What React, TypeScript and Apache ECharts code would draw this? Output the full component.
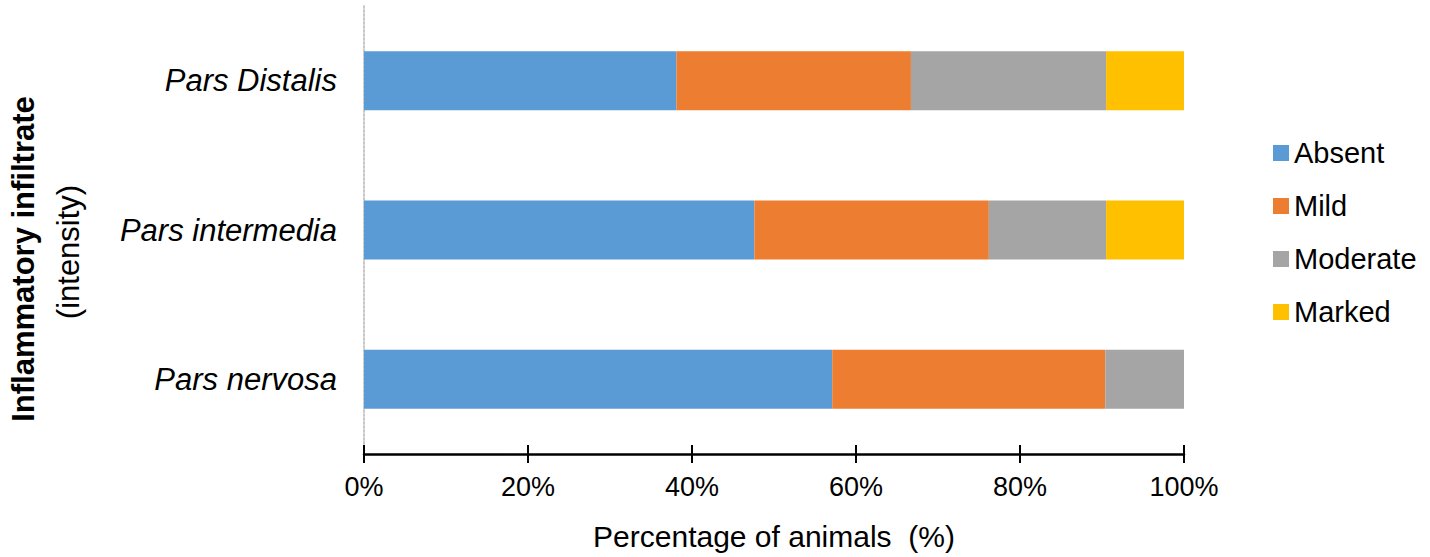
import React, { useEffect, useRef } from "react";
import * as echarts from "echarts";

const categories = ["Pars Distalis", "Pars intermedia", "Pars nervosa"];
const absent = [38.1, 47.6, 57.1];
const mild = [28.6, 28.6, 33.3];
const moderate = [23.8, 14.3, 9.6];
const marked = [9.5, 9.5, 0];
const xTicks = [0, 20, 40, 60, 80, 100];

const FONT = "'Liberation Sans', Arial, sans-serif";

export default function App() {
  const ref = useRef<HTMLDivElement>(null);
  useEffect(() => {
    if (!ref.current) return;
    const chart = echarts.init(ref.current, null, { renderer: "svg" });
    const mk = (name: string, data: number[], color: string) => ({
      name,
      type: "bar",
      stack: "total",
      data,
      barWidth: 59,
      xAxisIndex: 0,
      itemStyle: { color },
      emphasis: { disabled: true },
    });
    chart.setOption({
      animation: false,
      backgroundColor: "#ffffff",
      textStyle: { fontFamily: FONT },
      grid: { left: 364, right: 246, top: 6, bottom: 103, containLabel: false },
      legend: {
        orient: "vertical",
        left: 1268,
        top: 133,
        itemWidth: 16,
        itemHeight: 16,
        itemGap: 23,
        icon: "rect",
        textStyle: { fontSize: 29, color: "#000", fontFamily: FONT, lineHeight: 30 },
        data: ["Absent", "Mild", "Moderate", "Marked"],
      },
      xAxis: [
        {
          type: "value",
          min: xTicks[0],
          max: xTicks[xTicks.length - 1],
          interval: 20,
          position: "bottom",
          axisLine: { show: true, lineStyle: { color: "#000", width: 2.5 } },
          axisTick: { show: true, length: 9, lineStyle: { color: "#000", width: 2 } },
          axisLabel: {
            formatter: (v: number) => v + "%",
            fontSize: 27,
            color: "#000",
            fontFamily: FONT,
            margin: 19,
          },
          splitLine: { show: false },
          name: "Percentage of animals  (%)",
          nameLocation: "middle",
          nameGap: 67,
          nameTextStyle: { fontSize: 30, color: "#000", fontFamily: FONT },
        },
        {
          type: "value",
          min: xTicks[0],
          max: xTicks[xTicks.length - 1],
          interval: 20,
          position: "bottom",
          offset: 0,
          axisLine: { show: false },
          axisTick: { show: true, inside: true, length: 9, lineStyle: { color: "#000", width: 2 } },
          axisLabel: { show: false },
          splitLine: { show: false },
        },
      ],
      yAxis: {
        type: "category",
        data: categories,
        inverse: true,
        axisLine: { show: true, lineStyle: { color: "#c8c8c8", width: 2, type: "dotted" } },
        axisTick: { show: false },
        axisLabel: {
          fontSize: 31,
          fontStyle: "italic",
          color: "#000",
          fontFamily: FONT,
          margin: 27,
        },
      },
      graphic: [
        {
          type: "text",
          x: 23,
          y: 259,
          rotation: Math.PI / 2,
          style: {
            text: "Inflammatory infiltrate",
            fontSize: 31,
            fontWeight: "bold",
            fontFamily: FONT,
            fill: "#000",
            textAlign: "center",
            textVerticalAlign: "middle",
          },
        },
        {
          type: "text",
          x: 68,
          y: 252,
          rotation: Math.PI / 2,
          style: {
            text: "(intensity)",
            fontSize: 31,
            fontFamily: FONT,
            fill: "#000",
            textAlign: "center",
            textVerticalAlign: "middle",
          },
        },
      ],
      series: [
        mk("Absent", absent, "#5B9BD5"),
        mk("Mild", mild, "#ED7D31"),
        mk("Moderate", moderate, "#A5A5A5"),
        mk("Marked", marked, "#FFC000"),
      ],
    });
    return () => chart.dispose();
  }, []);
  return (
    <div
      ref={ref}
      style={{ position: "absolute", left: 0, top: 0, width: 1430, height: 557 }}
    />
  );
}
